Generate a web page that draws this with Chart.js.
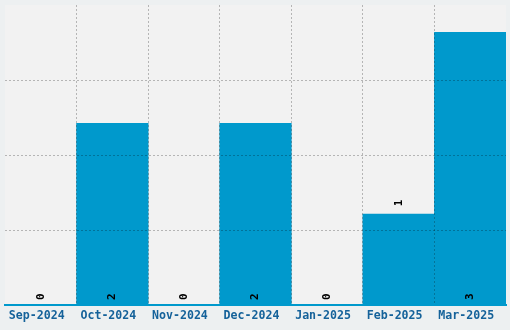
<!DOCTYPE html>
<html>
<head>
<meta charset="utf-8">
<script src="https://cdn.jsdelivr.net/npm/chart.js@4"></script>
<style>
    html, body { margin: 0; padding: 0; background: #edf0f1; }
    #wrap { width: 510px; height: 330px; }
</style>
</head>
<body>
<div id="wrap"><canvas id="chart"></canvas></div>
<script>
const months = ["Sep-2024", "Oct-2024", "Nov-2024", "Dec-2024", "Jan-2025", "Feb-2025", "Mar-2025"];
const counts = [0, 2, 0, 2, 0, 1, 3];
const yMax = 3.3;
const yStep = 0.825;

const monoFont = "'DejaVu Sans Mono', 'Liberation Mono', monospace";
const gridColor = "rgba(0,0,0,0.25)";
const clear = "rgba(0,0,0,0)";

// Grey plot area behind the bars
const plotBackground = {
    id: "plotBackground",
    beforeDraw(chart) {
        const { ctx, chartArea: a } = chart;
        ctx.save();
        ctx.fillStyle = "#f2f2f2";
        ctx.fillRect(a.left, a.top, a.right - a.left, a.bottom - a.top);
        ctx.restore();
    }
};

// Rotated value labels on each bar
const valueLabels = {
    id: "valueLabels",
    afterDraw(chart) {
        const ctx = chart.ctx;
        const meta = chart.getDatasetMeta(0);
        const yScale = chart.scales.y;
        ctx.save();
        ctx.fillStyle = "#000";
        ctx.font = "bold 11px " + monoFont;
        ctx.textAlign = "left";
        ctx.textBaseline = "middle";
        meta.data.forEach((bar, i) => {
            const v = counts[i];
            // the single "1" label sits just above its bar
            const y = v === 1 ? yScale.getPixelForValue(v) - 8 : yScale.getPixelForValue(0) - 5;
            ctx.save();
            ctx.translate(bar.x, y);
            ctx.rotate(-Math.PI / 2);
            ctx.fillText(String(v), 0, 0);
            ctx.restore();
        });
        ctx.restore();
    }
};

new Chart(document.getElementById("chart"), {
    type: "bar",
    data: {
        labels: months,
        datasets: [{
            data: counts,
            backgroundColor: "#0099cc",
            borderWidth: 0,
            barPercentage: 1,
            categoryPercentage: 1
        }]
    },
    options: {
        responsive: true,
        maintainAspectRatio: false,
        animation: false,
        layout: { padding: { left: 5, right: 4, top: 5, bottom: 3 } },
        plugins: {
            legend: { display: false },
            tooltip: { enabled: false }
        },
        scales: {
            x: {
                grid: {
                    z: 1,
                    offset: true,
                    // no lines on the left and right edges
                    color: ctx => (ctx.index === undefined || ctx.index === 0) ? clear : gridColor,
                    tickLength: 0,
                    lineWidth: 1
                },
                border: { display: true, color: "#0099cc", width: 2, dash: [2, 2], z: 2 },
                ticks: {
                    color: "#15629a",
                    font: { family: monoFont, size: 11.6, weight: "bold" },
                    padding: 4,
                    labelOffset: -4,
                    maxRotation: 0,
                    autoSkip: false
                }
            },
            y: {
                min: 0,
                max: yMax,
                ticks: { display: false, stepSize: yStep },
                grid: {
                    z: 1,
                    color: ctx => (ctx.tick && (ctx.tick.value < 0.1 || ctx.tick.value > yMax - 0.1)) ? clear : gridColor,
                    tickLength: 0
                },
                border: { display: false, dash: [2, 2] }
            }
        }
    },
    plugins: [plotBackground, valueLabels]
});
</script>
</body>
</html>
